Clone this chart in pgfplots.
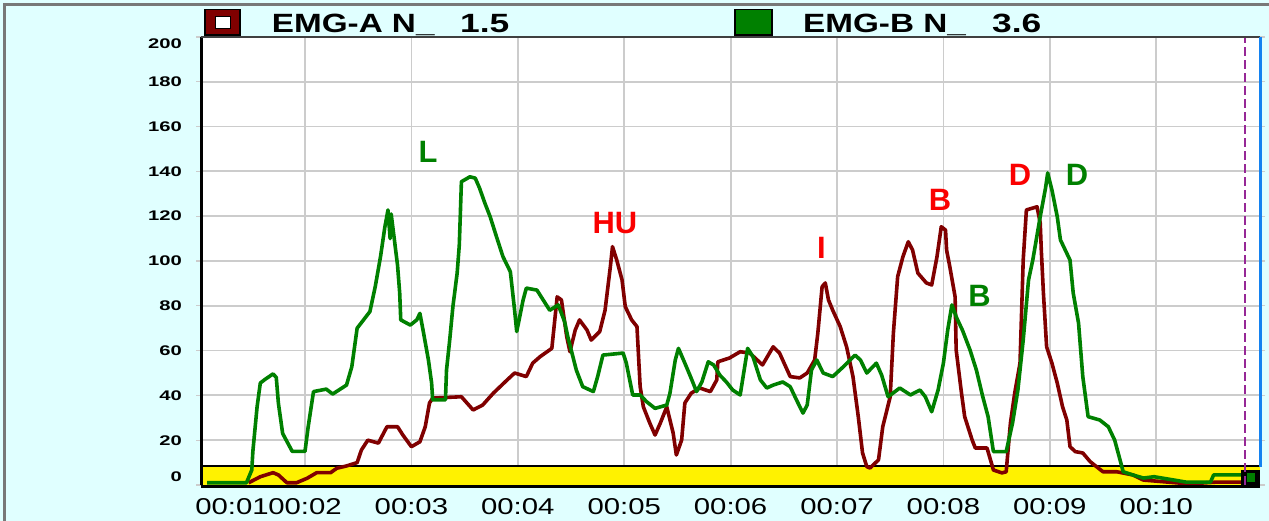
\documentclass[border=0pt]{standalone}
\usepackage{pgfplots}
\pgfplotsset{compat=1.18}
\usepackage{fontspec}
\setmainfont{Liberation Sans}
\usepackage{graphicx}

\definecolor{bgc}{RGB}{224,255,255}
\definecolor{emga}{RGB}{128,0,0}
\definecolor{emgb}{RGB}{0,128,0}
\definecolor{gridc}{RGB}{204,204,204}
\definecolor{framec}{RGB}{120,120,120}
\definecolor{bluec}{RGB}{20,130,240}
\definecolor{purplec}{RGB}{150,40,150}
\definecolor{annred}{RGB}{250,0,0}
\definecolor{anngreen}{RGB}{0,128,0}

\newcommand{\yl}[1]{\scalebox{1.45}[1]{#1}}
\newcommand{\xl}[1]{\scalebox{1.28}[1]{#1}}

\pgfplotstableread{
t y
1.47 1
1.58 3.7
1.70 5.5
1.75 4.5
1.83 1
1.92 1
2.02 3
2.11 5.5
2.24 5.5
2.30 7.5
2.39 8.5
2.49 10
2.53 15.6
2.59 20
2.69 18.7
2.77 26
2.87 26
2.92 22.3
3.00 17.1
3.08 19.3
3.13 26
3.17 36.6
3.20 38.8
3.47 39.4
3.58 33.5
3.67 35.7
3.77 41
3.90 46.9
3.97 50
4.08 48.4
4.14 54.4
4.21 57.3
4.32 61
4.37 84
4.41 82.6
4.46 66.2
4.49 59.5
4.54 69.2
4.58 73.7
4.65 69.2
4.69 64.7
4.77 68.5
4.82 78
4.87 97.5
4.89 106.4
4.93 100.4
4.98 91.5
5.01 79.6
5.07 73.7
5.12 70.7
5.15 43.9
5.18 34.9
5.24 27.7
5.29 22.3
5.34 27.7
5.40 34.9
5.46 23.2
5.49 13.4
5.54 20.1
5.57 36.6
5.63 41
5.71 43.3
5.81 41.7
5.87 46.9
5.88 55
5.99 56.7
6.09 59.5
6.18 58.9
6.25 55.8
6.30 53.6
6.40 61.7
6.46 58.9
6.56 48.4
6.65 47.8
6.72 50
6.79 55.8
6.82 67.9
6.86 88.5
6.89 90.2
6.92 82.6
6.96 78
7.03 70.7
7.09 61.7
7.15 48.4
7.20 30.5
7.24 14.3
7.28 8.2
7.31 7.6
7.39 11.2
7.43 26
7.50 39.4
7.53 67.9
7.57 93
7.62 102
7.67 108.6
7.71 104.9
7.76 94.6
7.84 90.2
7.89 89.3
7.94 102
7.98 115.3
8.02 113.8
8.03 104.9
8.06 97.5
8.11 84
8.12 60.3
8.17 41
8.20 30.5
8.27 20.1
8.30 16.5
8.41 16.5
8.47 6.7
8.55 5.4
8.59 5.9
8.63 27.7
8.67 41
8.72 54.4
8.75 100.4
8.78 122.8
8.88 124.2
8.91 117
8.92 104.9
8.94 85.7
8.97 61.7
9.02 54.4
9.07 45.5
9.12 34.9
9.16 29
9.19 17.1
9.24 14.9
9.31 14.3
9.38 10.4
9.50 5.9
9.63 5.9
9.78 4.5
9.88 2.2
10.31 0.5
10.57 1.3
10.80 1.3
}\emgA

\pgfplotstableread{
t y
1.08 1
1.45 1
1.50 6.7
1.51 15
1.55 35
1.58 45.5
1.62 47
1.70 49.6
1.73 48
1.75 36.5
1.79 23
1.88 15
2.00 15
2.03 26
2.08 41.7
2.20 42.8
2.26 40.6
2.39 44.6
2.44 52.8
2.49 70
2.61 77.4
2.66 88.5
2.71 102
2.75 115
2.78 122.8
2.80 110
2.81 121
2.87 98
2.89 85.7
2.90 73.7
2.99 71.4
3.05 73.7
3.08 76.6
3.11 69
3.16 55.8
3.19 45.5
3.20 38
3.32 38
3.33 51.3
3.36 64.7
3.39 79.6
3.43 94.6
3.45 107
3.46 121
3.47 135.4
3.55 137.6
3.60 137
3.64 132.6
3.69 125.9
3.74 119.8
3.80 110.8
3.86 102
3.93 95.2
3.97 78
3.99 68.5
4.05 82.6
4.08 87.9
4.18 87
4.22 84
4.30 78
4.38 80.4
4.44 72.9
4.47 66.2
4.55 51.3
4.61 43.9
4.71 41.7
4.75 48.3
4.80 58
4.99 58.9
5.02 54.4
5.08 40.2
5.15 40.2
5.21 37.2
5.29 34.2
5.40 35.7
5.43 41
5.48 55.8
5.51 61
5.57 54.4
5.63 47.6
5.68 41.7
5.73 46
5.79 55
5.84 53.6
5.90 49
5.96 46
6.02 42.4
6.09 40.2
6.16 61
6.21 57.3
6.28 46.9
6.34 43.3
6.40 44.6
6.49 46
6.56 43.9
6.62 37.9
6.68 32.1
6.72 35.7
6.76 51.3
6.81 55.8
6.87 50
6.96 48.4
7.06 52.8
7.17 58
7.22 55.8
7.28 50
7.37 54.4
7.42 49
7.48 39.4
7.59 43.3
7.69 40.2
7.78 42.4
7.83 39.4
7.89 32.7
7.95 42.4
8.00 54.4
8.04 69
8.08 80.4
8.12 75.1
8.18 69
8.25 60.3
8.31 51.3
8.37 39.4
8.42 30.5
8.47 14.9
8.59 14.9
8.65 27.7
8.70 42.4
8.75 64.7
8.80 91.5
8.84 100.4
8.91 119.8
8.96 132.6
8.98 139.3
9.02 131.7
9.07 119.8
9.10 109.4
9.19 100.4
9.22 85.7
9.27 72.3
9.31 48.4
9.36 30.5
9.47 29
9.55 26
9.61 20
9.66 11.2
9.69 5.9
9.78 4.5
9.88 3.1
9.98 3.7
10.28 1.3
10.51 1.3
10.54 4.5
10.80 4.5
}\emgB

\begin{document}
\begin{tikzpicture}
\fill[bgc] (0,0) rectangle (1269bp,521bp);
\useasboundingbox (0,0) rectangle (1269bp,521bp);
\draw[framec, line width=3bp] (4.5bp,0) -- (4.5bp,516.5bp) -- (1269bp,516.5bp);
% legend entries
\draw[black, line width=1.5bp, fill=emga] (205bp,486bp) rectangle (240bp,511.7bp);
\draw[black, line width=1bp, fill=white] (215bp,492.7bp) rectangle (230bp,504.3bp);
\node[anchor=base west, inner sep=0pt, font=\fontsize{26.5}{26.5}\selectfont\bfseries] at (271.7bp,488.7bp) {\scalebox{1.26}[1]{EMG-A N\_}};
\node[anchor=base west, inner sep=0pt, font=\fontsize{26.5}{26.5}\selectfont\bfseries] at (460bp,488.7bp) {\scalebox{1.34}[1]{1.5}};
\draw[black, line width=1.5bp, fill=emgb] (735bp,486bp) rectangle (772bp,511.7bp);
\node[anchor=base west, inner sep=0pt, font=\fontsize{26.5}{26.5}\selectfont\bfseries] at (803bp,488.7bp) {\scalebox{1.26}[1]{EMG-B N\_}};
\node[anchor=base west, inner sep=0pt, font=\fontsize{26.5}{26.5}\selectfont\bfseries] at (992bp,488.7bp) {\scalebox{1.34}[1]{3.6}};

\begin{axis}[
  at={(201bp,36bp)}, anchor=south west,
  scale only axis, width=1059bp, height=448bp,
  xmin=1.0226, xmax=10.976, ymin=0, ymax=200,
  clip=false,
  axis background/.style={fill=white},
  axis line style={draw=none},
  xtick={2,3,4,5,6,7,8,9,10},
  xticklabels={\xl{00:02},\xl{00:03},\xl{00:04},\xl{00:05},\xl{00:06},\xl{00:07},\xl{00:08},\xl{00:09},\xl{00:10}},
  extra x ticks={1.314},
  extra x tick labels={\xl{00:01}},
  extra x tick style={grid=none},
  ytick={0,20,...,200},
  yticklabels={\raisebox{8bp}[\height][\depth]{\yl{0}},\yl{20},\yl{40},\yl{60},\yl{80},\yl{100},\yl{120},\yl{140},\yl{160},\yl{180},\raisebox{-7bp}[\height][\depth]{\yl{200}}},
  grid=major,
  major grid style={draw=gridc, line width=1.8bp},
  tick align=outside, major tick length=5bp,
  xtick style={draw=none},
  ytick style={draw=gridc, line width=1.2bp},
  xticklabel style={font=\fontsize{23}{23}\selectfont, inner sep=0pt, anchor=north, yshift=-8bp},
  yticklabel style={font=\fontsize{14}{14}\selectfont\bfseries, inner sep=0pt, anchor=east, xshift=-14bp},
  every axis plot/.append style={line join=round},
]
% threshold band
\addplot[fill=yellow, draw=none] coordinates {(1.0226,8.5) (10.976,8.5)} \closedcycle;
\addplot[black, line width=1.5bp] coordinates {(1.0226,8.5) (10.976,8.5)};
% series
\addplot[emga, line width=3.6bp] table[x=t, y=y] {\emgA};
\addplot[emgb, line width=3.6bp] table[x=t, y=y] {\emgB};
% end marker block
\fill[black] (axis cs:10.80,0) rectangle (axis cs:10.976,6.9);
\fill[emgb] (axis cs:10.853,1.5) rectangle (axis cs:10.929,5.4);
\addplot[purplec, line width=1.8bp, dash pattern=on 9bp off 4bp] coordinates {(10.838,0) (10.838,200)};
% frame
\draw[black, line width=3bp] (rel axis cs:0,0) -- (rel axis cs:0,1);
\draw[black!75, line width=2bp] (rel axis cs:0,1) -- (rel axis cs:1,1);
\draw[black, line width=3.5bp, yshift=-1.5bp] (rel axis cs:0,0) -- (rel axis cs:1,0);
\draw[bluec, line width=3bp] (rel axis cs:1,0.04) -- (rel axis cs:1,1);
% annotations
\node[text=anngreen, inner sep=0pt, font=\fontsize{31}{31}\selectfont\bfseries] at (axis cs:3.156,148.7) {L};
\node[text=annred, inner sep=0pt, font=\fontsize{31}{31}\selectfont\bfseries] at (axis cs:4.913,117) {HU};
\node[text=annred, inner sep=0pt, font=\fontsize{31}{31}\selectfont\bfseries] at (axis cs:6.854,105.8) {I};
\node[text=annred, inner sep=0pt, font=\fontsize{31}{31}\selectfont\bfseries] at (axis cs:7.968,127.2) {B};
\node[text=anngreen, inner sep=0pt, font=\fontsize{31}{31}\selectfont\bfseries] at (axis cs:8.339,84.4) {B};
\node[text=annred, inner sep=0pt, font=\fontsize{31}{31}\selectfont\bfseries] at (axis cs:8.72,138.6) {D};
\node[text=anngreen, inner sep=0pt, font=\fontsize{31}{31}\selectfont\bfseries] at (axis cs:9.256,138.6) {D};
\end{axis}
\end{tikzpicture}
\end{document}
